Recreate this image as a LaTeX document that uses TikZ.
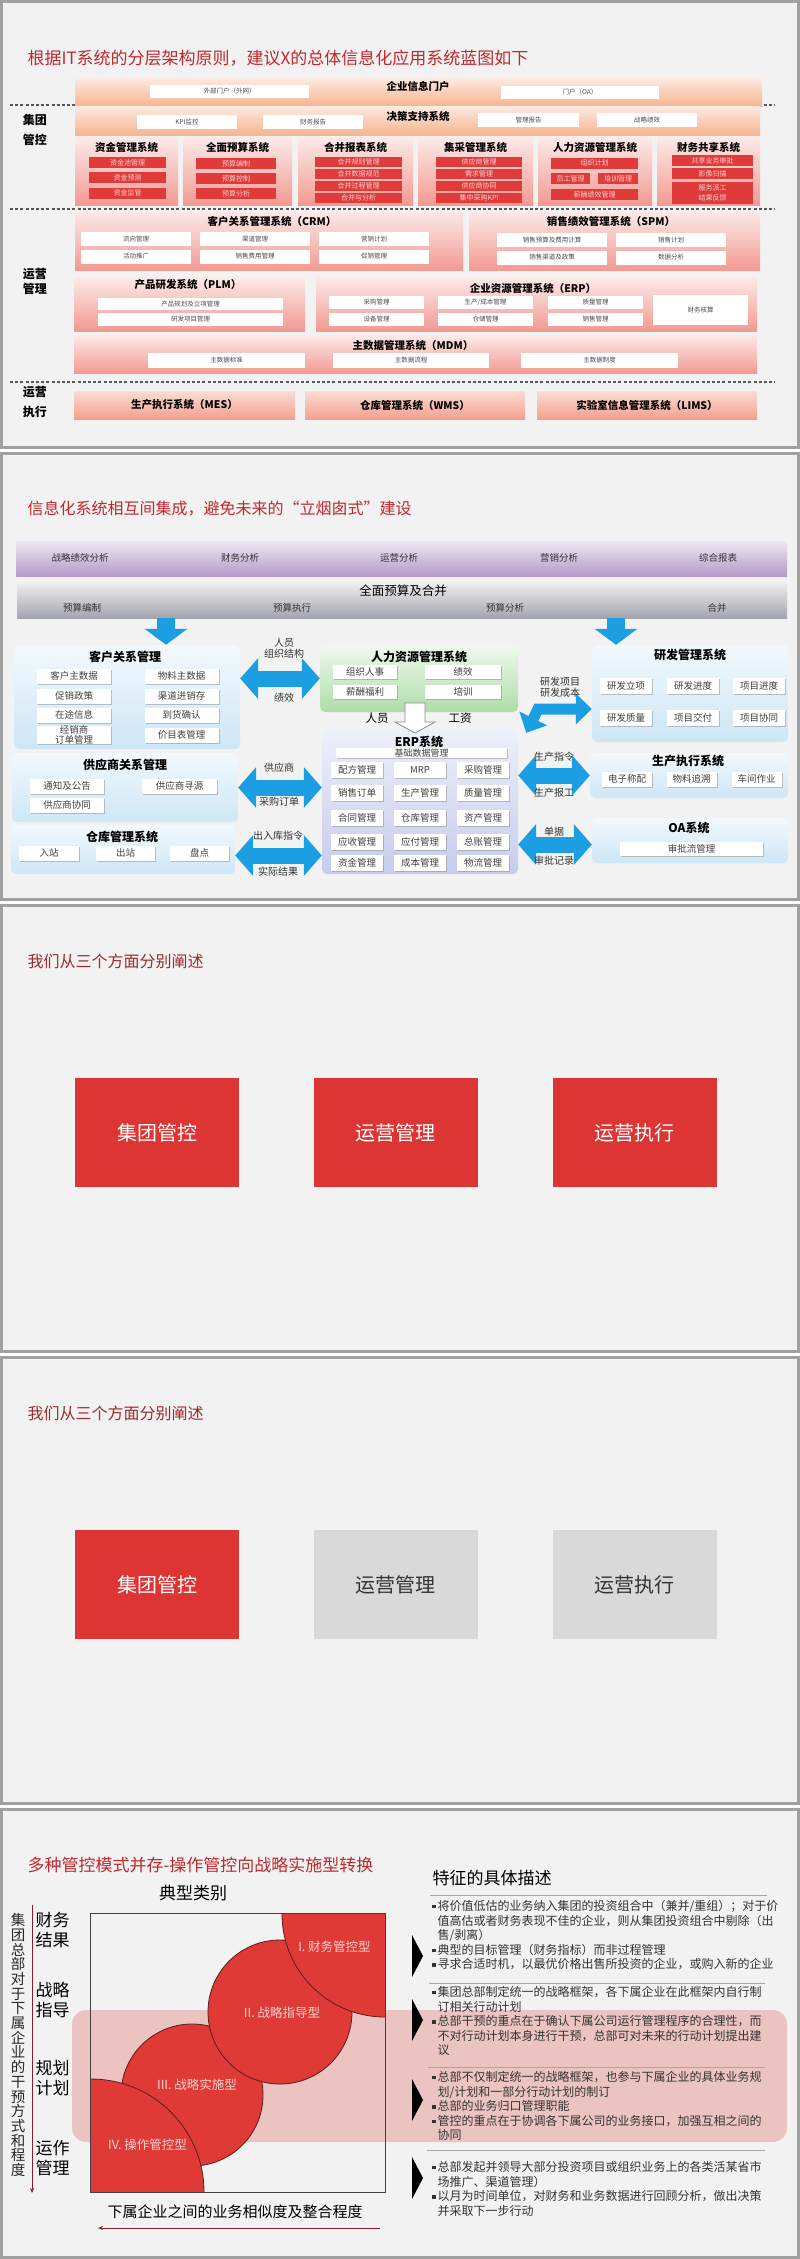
\documentclass[tikz,border=0pt]{standalone}
\usepackage{fontspec}
\setmainfont{Noto Sans CJK SC}
\usetikzlibrary{positioning, arrows.meta, calc, shapes.arrows, shadows}
\definecolor{titlered}{HTML}{C0282D}
\definecolor{maroon}{HTML}{9A2B2E}
\definecolor{deepred}{HTML}{8E1F24}
\definecolor{slidebg}{HTML}{F2F2F2}
\definecolor{framegray}{HTML}{A0A0A0}
\definecolor{peachtop}{HTML}{FCEBE2}
\definecolor{peachbot}{HTML}{F6B48F}
\definecolor{pinktop}{HTML}{FCEAE8}
\definecolor{pinkbot}{HTML}{F29A92}
\definecolor{salmtop}{HTML}{FCDCD4}
\definecolor{salmbot}{HTML}{F2A08E}
\definecolor{itemred}{HTML}{E03B3B}
\definecolor{itemtxt}{HTML}{FBD0D0}
\definecolor{lilactop}{HTML}{EEE6F3}
\definecolor{lilac}{HTML}{B39BC8}
\definecolor{greytop}{HTML}{F0F0F0}
\definecolor{greybot}{HTML}{A4A4AE}
\definecolor{skyblue}{HTML}{1C9FE2}
\definecolor{icetop}{HTML}{F2F9FD}
\definecolor{icebot}{HTML}{CDE6F6}
\definecolor{minttop}{HTML}{F0F9EF}
\definecolor{mint}{HTML}{AEDCA8}
\definecolor{peritop}{HTML}{EEF0FA}
\definecolor{peribot}{HTML}{C6CCEC}
\definecolor{boxred}{HTML}{DD3534}
\definecolor{boxgrey}{HTML}{D9D9D9}
\definecolor{circred}{HTML}{E03A36}
\definecolor{circline}{HTML}{5A1C1C}
\definecolor{circtxt}{HTML}{F8D0CC}
\definecolor{bandpink}{HTML}{DC5A50}
\definecolor{txtgrey}{HTML}{333333}
\newcommand{\fsz}[1]{\fontsize{#1}{#1}\selectfont}
\newcommand{\fsl}[2]{\fontsize{#1}{#2}\selectfont}
\newcommand{\sqb}{\rule[2pt]{3.5pt}{3.5pt}\hspace{2pt}}
\newcommand{\ind}{\hspace*{5.5pt}}

\begin{document}
\begin{tikzpicture}[
  x=1pt, y=-1pt,
  slidebox/.style={draw=framegray, line width=2.5pt, fill=slidebg},
  ttl/.style={anchor=west, text=titlered, font=\fsz{17}},
  wh/.style 2 args={minimum width=#1pt, minimum height=#2pt},
  dashsep/.style={draw=black!65, line width=1.1pt, dash pattern=on 3pt off 2.2pt},
  band/.style={inner sep=0pt, top color=pinktop, bottom color=pinkbot},
  peach/.style={inner sep=0pt, top color=peachtop, bottom color=peachbot},
  runbar/.style={inner sep=0pt, top color=salmtop, bottom color=salmbot, font=\bfseries\fsz{10.5}},
  wbox/.style={inner sep=0pt, fill=white, text=black!70, font=\fsz{6.5}},
  rbox/.style={inner sep=0pt, fill=itemred, text=itemtxt, font=\fsz{7}},
  hd/.style={font=\bfseries\fsz{10.5}},
  sidelbl/.style={font=\bfseries\fsz{12}},
  blk/.style={inner sep=0pt, rounded corners=5pt, top color=icetop, bottom color=icebot},
  btn/.style={inner sep=0pt, fill=white, text=black!75, font=\fsz{9.5},
    drop shadow={shadow xshift=1.3pt, shadow yshift=-1.3pt, fill=black!45, opacity=0.5}},
  bh/.style={font=\bfseries\fsz{12}},
  lbl/.style={font=\fsz{10}, text=black!80},
  barr/.style={draw=skyblue, line width=16pt,
    {Triangle[length=18pt,width=40pt]}-{Triangle[length=18pt,width=40pt]}},
  darr/.style={draw=skyblue, line width=18pt, -{Triangle[length=16pt,width=42pt]}},
  bigbox/.style={inner sep=0pt, wh={164}{109}, fill=boxred, text=white, font=\fsz{20}},
  greybox/.style={bigbox, fill=boxgrey, text=black!80},
  disc/.style={fill=circred, draw=circline, line width=0.8pt},
  disclbl/.style={text=circtxt, font=\fsz{12.5}},
  axarr/.style={draw=deepred, line width=0.8pt, -{Stealth[length=5pt,width=4pt]}},
  greyline/.style={draw=black!35, line width=0.8pt},
  note/.style={anchor=north west, align=left, inner sep=0pt, text=txtgrey, font=\fsl{12}{14.6}},
]
  \fill[white] (0,0) rectangle (800,2259);
  \useasboundingbox (0,0) rectangle (800,2259);

  % Slide 1: application blueprint
  \draw[slidebox] (1.5,1.5) rectangle (798.5,447.5);
  \node[ttl] (t1) at (24,58) {根据IT系统的分层架构原则，建议X的总体信息化应用系统蓝图如下};
  \foreach \y in {105,209,382} \draw[dashsep] (10,\y) -- (775,\y);
  \node[sidelbl] (grp1) at (35,120) {集团};
  \node[sidelbl] (grp2) at (35,140) {管控};
  \node[sidelbl] (ops1) at (35,274) {运营};
  \node[sidelbl] (ops2) at (35,289) {管理};
  \node[sidelbl] (run1) at (35,392) {运营};
  \node[sidelbl] (run2) at (35,412) {执行};

  \node[peach, wh={687}{28}] (portal) at (418.5,92) {};
  \node[hd] (portalT) at (418,86) {企业信息门户};
  \node[wbox, wh={159}{13}] (extweb) at (229.5,91.5) {外部门户（外网）};
  \node[wbox, wh={158}{13}] (oaweb) at (580,92.5) {门户（OA）};
  \node[peach, wh={685}{29}] (dss) at (417.5,120.5) {};
  \node[hd] (dssT) at (418,116) {决策支持系统};
  \node[wbox, wh={100}{14}] (kpi) at (187,122) {KPI监控};
  \node[wbox, wh={100}{14}] (finrep) at (313,122) {财务报告};
  \node[wbox, wh={101}{14}] (mgtrep) at (528.5,120) {管理报告};
  \node[wbox, wh={100}{14}] (strat) at (647,120) {战略绩效};

  \node[band, wh={103}{68}] (fund) at (126.5,171) {};
  \node[hd] (fundT) at (126.5,147) {资金管理系统};
  \node[rbox, wh={77}{11}] (f1) at (127.5,162.5) {资金池管理};
  \node[rbox, wh={77}{11}] (f2) at (127.5,177.5) {资金预测};
  \node[rbox, wh={77}{11}] (f3) at (127.5,193) {资金监管};
  \node[band, wh={109}{68}] (bud) at (237.5,171) {};
  \node[hd] (budT) at (237.5,147) {全面预算系统};
  \node[rbox, wh={80}{11}] (b1) at (236,163.5) {预算编制};
  \node[rbox, wh={80}{11}] (b2) at (236,178.5) {预算控制};
  \node[rbox, wh={80}{11}] (b3) at (236,193.5) {预算分析};
  \node[band, wh={115}{68}] (cons) at (355.5,171) {};
  \node[hd] (consT) at (355.5,147) {合并报表系统};
  \node[rbox, wh={87}{10}] (c1) at (358.5,162) {合并规则管理};
  \node[rbox, wh={87}{10}] (c2) at (358.5,174) {合并数据规范};
  \node[rbox, wh={87}{10}] (c3) at (358.5,186) {合并过程管理};
  \node[rbox, wh={87}{10}] (c4) at (358.5,198) {合并与分析};
  \node[band, wh={115}{68}] (proc) at (475.5,171) {};
  \node[hd] (procT) at (475.5,147) {集采管理系统};
  \node[rbox, wh={86}{10}] (p1) at (479,162) {供应商管理};
  \node[rbox, wh={86}{10}] (p2) at (479,174) {需求管理};
  \node[rbox, wh={86}{10}] (p3) at (479,186) {供应商协同};
  \node[rbox, wh={86}{10}] (p4) at (479,198) {集中采购KPI};
  \node[band, wh={114}{68}] (hrm) at (595,171) {};
  \node[hd] (hrmT) at (595,147) {人力资源管理系统};
  \node[rbox, wh={87}{11}] (h1) at (594.5,163) {组织计划};
  \node[rbox, wh={39}{11}] (h2) at (570.5,178.5) {员工管理};
  \node[rbox, wh={40}{11}] (h3) at (618,178.5) {培训管理};
  \node[rbox, wh={87}{11}] (h4) at (594.5,194.5) {薪酬绩效管理};
  \node[band, wh={103}{68}] (fss) at (708.5,171) {};
  \node[hd] (fssT) at (708.5,147) {财务共享系统};
  \node[rbox, wh={81}{11}] (s1) at (712.5,160.5) {共享业务审批};
  \node[rbox, wh={81}{11}] (s2) at (712.5,173.5) {影像扫描};
  \node[rbox, wh={81}{22}, align=center, font=\fsl{7}{10}] (s3) at (712.5,193) {服务派工\\结果反馈};

  \node[band, wh={388}{59}] (crm) at (269,240.5) {};
  \node[hd] (crmT) at (272,221) {客户关系管理系统（CRM）};
  \node[wbox, wh={110}{14}] (cr1) at (136,239) {流向管理};
  \node[wbox, wh={110}{14}] (cr2) at (255,239) {渠道管理};
  \node[wbox, wh={110}{14}] (cr3) at (374,239) {营销计划};
  \node[wbox, wh={110}{14}] (cr4) at (136,256.5) {活动推广};
  \node[wbox, wh={110}{14}] (cr5) at (255,256.5) {销售费用管理};
  \node[wbox, wh={110}{14}] (cr6) at (374,256.5) {促销管理};
  \node[band, wh={291}{59}] (spm) at (614.5,240.5) {};
  \node[hd] (spmT) at (611,221) {销售绩效管理系统（SPM）};
  \node[wbox, wh={110}{14}] (sp1) at (552,240) {销售预算及费用计算};
  \node[wbox, wh={110}{14}] (sp2) at (671,240) {销售计划};
  \node[wbox, wh={110}{14}] (sp3) at (552,257.5) {销售渠道及政策};
  \node[wbox, wh={110}{14}] (sp4) at (671,257.5) {数据分析};

  \node[band, wh={231}{54}] (plm) at (189.5,304) {};
  \node[hd] (plmT) at (188,285) {产品研发系统（PLM）};
  \node[wbox, wh={185}{12.5}] (pl1) at (190.5,304) {产品规划及立项管理};
  \node[wbox, wh={185}{12.5}] (pl2) at (190.5,319.5) {研发项目管理};
  \node[band, wh={441}{54}] (erp) at (536.5,304) {};
  \node[hd] (erpT) at (533,288) {企业资源管理系统（ERP）};
  \node[wbox, wh={95}{13}] (e1) at (376.5,302.5) {采购管理};
  \node[wbox, wh={95}{13}] (e2) at (376.5,319) {设备管理};
  \node[wbox, wh={95}{13}] (e3) at (485.5,302.5) {生产/成本管理};
  \node[wbox, wh={95}{13}] (e4) at (485.5,319) {仓储管理};
  \node[wbox, wh={95}{13}] (e5) at (595.5,302.5) {质量管理};
  \node[wbox, wh={95}{13}] (e6) at (595.5,319) {销售管理};
  \node[wbox, wh={95}{30}] (e7) at (700.5,310) {财务核算};
  \node[band, wh={683}{38}] (mdm) at (415.5,354) {};
  \node[hd] (mdmT) at (413,345) {主数据管理系统（MDM）};
  \node[wbox, wh={157}{15}] (m1) at (226.5,360.5) {主数据标准};
  \node[wbox, wh={156}{15}] (m2) at (411,360.5) {主数据流程};
  \node[wbox, wh={157}{15}] (m3) at (599.5,360.5) {主数据制度};

  \node[runbar, wh={221}{28}] (mes) at (184.5,405) {生产执行系统（MES）};
  \node[runbar, wh={220}{28}] (wms) at (415,405) {仓库管理系统（WMS）};
  \node[runbar, wh={220}{28}] (lims) at (647,405) {实验室信息管理系统（LIMS）};

  % Slide 2: integration map
  \draw[slidebox] (1.5,453.5) rectangle (798.5,899.5);
  \node[ttl, font=\fsz{16}] (t2) at (24,509) {信息化系统相互间集成，避免未来的“立烟囱式”建设};
  \node[inner sep=0pt, wh={771}{35}, top color=lilactop, bottom color=lilac] (anabar) at (401.5,558.5) {};
  \node[lbl, font=\fsz{9.5}] (an1) at (80,558) {战略绩效分析};
  \node[lbl, font=\fsz{9.5}] (an2) at (240,558) {财务分析};
  \node[lbl, font=\fsz{9.5}] (an3) at (399,558) {运营分析};
  \node[lbl, font=\fsz{9.5}] (an4) at (559,558) {营销分析};
  \node[lbl, font=\fsz{9.5}] (an5) at (718,558) {综合报表};
  \node[inner sep=0pt, wh={770}{36}, top color=greytop, bottom color=greybot] (budget) at (402,600) {};
  \node[font=\fsz{12.5}] (budgetT) at (403,591) {全面预算及合并};
  \node[lbl, font=\fsz{9.5}] (bu1) at (82,608) {预算编制};
  \node[lbl, font=\fsz{9.5}] (bu2) at (292,608) {预算执行};
  \node[lbl, font=\fsz{9.5}] (bu3) at (505,608) {预算分析};
  \node[lbl, font=\fsz{9.5}] (bu4) at (717,608) {合并};

  \node[blk, wh={226}{104}] (crm2) at (127,697) {};
  \node[bh] (crm2T) at (125,657) {客户关系管理};
  \node[btn, wh={74}{15}] (cm1) at (74,676) {客户主数据};
  \node[btn, wh={74}{15}] (cm2) at (181.5,676) {物料主数据};
  \node[btn, wh={74}{15}] (cm3) at (74,696) {促销政策};
  \node[btn, wh={74}{15}] (cm4) at (181.5,696) {渠道进销存};
  \node[btn, wh={74}{15}] (cm5) at (74,715) {在途信息};
  \node[btn, wh={74}{15}] (cm6) at (181.5,715) {到货确认};
  \node[btn, wh={74}{15}, align=center, font=\fsl{9.5}{9.5}] (cm7) at (74,735) {经销商\\订单管理};
  \node[btn, wh={74}{15}] (cm8) at (181.5,735) {价目表管理};
  \node[blk, wh={226}{69}] (srm) at (125,787.5) {};
  \node[bh] (srmT) at (125,765) {供应商关系管理};
  \node[btn, wh={74}{15}] (sr1) at (67,786) {通知及公告};
  \node[btn, wh={75}{15}] (sr2) at (179.5,786) {供应商寻源};
  \node[btn, wh={74}{15}] (sr3) at (67,805) {供应商协同};
  \node[blk, wh={224}{49}] (wms2) at (123,849.5) {};
  \node[bh] (wms2T) at (122,837) {仓库管理系统};
  \node[btn, wh={60}{15}] (wm1) at (49,853) {入站};
  \node[btn, wh={59}{15}] (wm2) at (125.5,853) {出站};
  \node[btn, wh={59}{15}] (wm3) at (199.5,853) {盘点};

  \node[blk, wh={198}{67}, top color=minttop, bottom color=mint] (hr) at (419,678.5) {};
  \node[bh] (hrT) at (419,657) {人力资源管理系统};
  \node[btn, wh={64}{14}] (hr1) at (365,672) {组织人事};
  \node[btn, wh={64}{14}] (hr2) at (365,692) {薪酬福利};
  \node[btn, wh={76}{14}] (hr3) at (463,672) {绩效};
  \node[btn, wh={76}{14}] (hr4) at (463,692) {培训};
  \node[blk, wh={196}{146}, top color=peritop, bottom color=peribot] (erp2) at (420,801) {};
  \node[bh] (erp2T) at (419,742) {ERP系统};
  \node[btn, wh={171}{10}, font=\fsz{9}] (erp2base) at (421.5,753) {基础数据管理};
  \node[btn, wh={52}{16}] (er1) at (357,770) {配方管理};
  \node[btn, wh={52}{16}] (er2) at (420,770) {MRP};
  \node[btn, wh={52}{16}] (er3) at (483,770) {采购管理};
  \node[btn, wh={52}{16}] (er4) at (357,793) {销售订单};
  \node[btn, wh={52}{16}] (er5) at (420,793) {生产管理};
  \node[btn, wh={52}{16}] (er6) at (483,793) {质量管理};
  \node[btn, wh={52}{16}] (er7) at (357,818) {合同管理};
  \node[btn, wh={52}{16}] (er8) at (420,818) {仓库管理};
  \node[btn, wh={52}{16}] (er9) at (483,818) {资产管理};
  \node[btn, wh={52}{16}] (er10) at (357,842) {应收管理};
  \node[btn, wh={52}{16}] (er11) at (420,842) {应付管理};
  \node[btn, wh={52}{16}] (er12) at (483,842) {总账管理};
  \node[btn, wh={52}{16}] (er13) at (357,863) {资金管理};
  \node[btn, wh={52}{16}] (er14) at (420,863) {成本管理};
  \node[btn, wh={52}{16}] (er15) at (483,863) {物流管理};

  \node[blk, wh={196}{97}] (rd) at (690,693.5) {};
  \node[bh] (rdT) at (690,655) {研发管理系统};
  \node[btn, wh={52}{16}] (rd1) at (626,686) {研发立项};
  \node[btn, wh={52}{16}] (rd2) at (693,686) {研发进度};
  \node[btn, wh={52}{16}] (rd3) at (759,686) {项目进度};
  \node[btn, wh={52}{16}] (rd4) at (626,718) {研发质量};
  \node[btn, wh={52}{16}] (rd5) at (693,718) {项目交付};
  \node[btn, wh={52}{16}] (rd6) at (759,718) {项目协同};
  \node[blk, wh={198}{45}] (mes2) at (689,775.5) {};
  \node[bh] (mes2T) at (688,761) {生产执行系统};
  \node[btn, wh={50}{15}] (ms1) at (627,779) {电子称配};
  \node[btn, wh={50}{15}] (ms2) at (691.5,779) {物料追溯};
  \node[btn, wh={50}{15}] (ms3) at (756.5,779) {车间作业};
  \node[blk, wh={196}{45}] (oa) at (690,840.5) {};
  \node[bh] (oaT) at (689,828) {OA系统};
  \node[btn, wh={143}{14}] (oa1) at (691.5,849) {审批流管理};

  \draw[darr] ([xshift=39pt]crm2.north |- budget.south) -- ([xshift=39pt]crm2.north);
  \draw[darr] ([xshift=-74pt]rd.north |- budget.south) -- ([xshift=-74pt]rd.north);
  \draw[barr] (crm2.east |- hr.west) -- (hr.west);
  \node[lbl, align=center, font=\fsl{10}{10.5}] (l1a) at (284,648) {人员\\组织结构};
  \node[lbl] (l1b) at (284,698) {绩效};
  \draw[barr] (srm.east) -- (srm.east -| erp2.west);
  \node[lbl] (l2a) at (279,768) {供应商};
  \node[lbl] (l2b) at (279,802) {采购订单};
  \draw[barr] ([yshift=-6pt]wms2.east) -- ([yshift=-6pt]wms2.east -| erp2.west);
  \node[lbl] (l3a) at (278,836) {出入库指令};
  \node[lbl] (l3b) at (278,872) {实际结果};
  \draw[barr] (erp2.east |- mes2.west) -- (mes2.west);
  \node[lbl] (l4a) at (554,757) {生产指令};
  \node[lbl] (l4b) at (554,793) {生产报工};
  \draw[barr] ([yshift=-4pt]erp2.east |- oa.west) -- ([yshift=-4pt]oa.west);
  \node[lbl] (l5a) at (554,832) {单据};
  \node[lbl] (l5b) at (554,861) {审批记录};
  \coordinate (rdbend) at (538,709);
  \draw[draw=skyblue, line width=11pt,
    {Triangle[length=16pt,width=30pt]}-{Triangle[length=16pt,width=30pt]}]
    ([yshift=-15.5pt]rd.west) -- (rdbend) -- ([xshift=8pt,yshift=-5pt]erp2.north east);
  \node[lbl, align=center, font=\fsl{10}{10.5}] (l6) at (560,687) {研发项目\\研发成本};
  % hollow flow arrow from HR down to ERP
  \coordinate (flow) at (415,703);
  \draw[black!45, fill=white, line width=0.8pt] (flow) ++(-10,0) -- ++(20,0) -- ++(0,19)
    -- ++(10,0) -- ++(-20,11) -- ++(-20,-11) -- ++(10,0) -- cycle;
  \node[font=\fsz{11.5}] (staff) at (377,718) {人员};
  \node[font=\fsz{11.5}] (wage) at (460,718) {工资};

  % Slide 3: three aspects
  \draw[slidebox] (1.5,905.5) rectangle (798.5,1351.5);
  \node[ttl, text=maroon, font=\fsz{16}] (t3) at (24,961) {我们从三个方面分别阐述};
  \node[bigbox] (gc3) at (157,1132.5) {集团管控};
  \node[bigbox] (om3) at (395.5,1132.5) {运营管理};
  \node[bigbox] (oe3) at (634.5,1132.5) {运营执行};

  % Slide 4: first aspect highlighted
  \draw[slidebox] (1.5,1357.5) rectangle (798.5,1803.5);
  \node[ttl, text=maroon, font=\fsz{16}] (t4) at (24,1413) {我们从三个方面分别阐述};
  \node[bigbox] (gc4) at (157,1584.5) {集团管控};
  \node[greybox] (om4) at (395.5,1584.5) {运营管理};
  \node[greybox] (oe4) at (634.5,1584.5) {运营执行};

  % Slide 5: control modes
  \draw[slidebox] (1.5,1809.5) rectangle (798.5,2257.5);
  \node[ttl] (t5) at (24,1865) {多种管控模式并存-操作管控向战略实施型转换};
  \fill[bandpink, opacity=0.3, rounded corners=14pt] (72,2010) rectangle (787,2142);
  \node[font=\fsz{17}] (typ) at (193,1893) {典型类别};
  \node[align=center, font=\fsl{14.5}{14.7}, text=black!85] (vaxis) at (18,2045)
    {集\\团\\总\\部\\对\\于\\下\\属\\企\\业\\的\\干\\预\\方\\式\\和\\程\\度};
  \coordinate (vtop) at (32,1905);
  \coordinate (vbot) at (32,2193);
  \draw[axarr] (vtop) -- (vbot);
  \node[align=center, font=\fsl{17}{20}] (lv1) at (52.5,1930) {财务\\结果};
  \node[align=center, font=\fsl{17}{20}] (lv2) at (52.5,2000) {战略\\指导};
  \node[align=center, font=\fsl{17}{20}] (lv3) at (52.5,2078) {规划\\计划};
  \node[align=center, font=\fsl{17}{20}] (lv4) at (52.5,2158.5) {运作\\管理};
  \node[inner sep=0pt, wh={294}{278}] (quad) at (238,2053) {};
  \begin{scope}
    \clip (quad.north west) rectangle (quad.south east);
    \draw[disc] (192,2095) circle[radius=71pt];
    \draw[disc] (280,2012) circle[radius=72pt];
    \draw[disc] (385,1914) circle[radius=103pt];
    \draw[disc] (91,2192) circle[radius=113pt];
  \end{scope}
  \draw[black!75, line width=1pt] (quad.north west) rectangle (quad.south east);
  \node[disclbl] (m1l) at (334.5,1947) {I. 财务管控型};
  \node[disclbl] (m2l) at (282,2013) {II. 战略指导型};
  \node[disclbl] (m3l) at (197,2085) {III. 战略实施型};
  \node[disclbl] (m4l) at (147.5,2145) {IV. 操作管控型};
  \node[font=\fsz{15}] (haxis) at (235,2212) {下属企业之间的业务相似度及整合程度};
  \coordinate (hright) at (380,2228);
  \coordinate (hleft) at (98,2228);
  \draw[axarr] (hright) -- (hleft);

  \node[anchor=west, font=\fsz{17}] (featT) at (429,1878) {特征的具体描述};
  \draw[greyline] (430,1895) -- (767,1895);
  \draw[greyline] (429,1983) -- (765,1983);
  \draw[greyline] (428,2067) -- (765,2067);
  \draw[greyline] (427,2150) -- (765,2150);
  \foreach \c in {1956,2020,2100,2178}
    \fill[black] (412,\c-21) -- (423,\c) -- (412,\c+21) -- cycle;
  \node[note] (g1) at (432,1900) {\sqb 将价值低估的业务纳入集团的投资组合中（兼并/重组）；对于价\\
    \ind 值高估或者财务表现不佳的企业，则从集团投资组合中剔除（出\\
    \ind 售/剥离）\\
    \sqb 典型的目标管理（财务指标）而非过程管理\\
    \sqb 寻求合适时机，以最优价格出售所投资的企业，或购入新的企业};
  \node[note] (g2) at (432,1986) {\sqb 集团总部制定统一的战略框架，各下属企业在此框架内自行制\\
    \ind 订相关行动计划\\
    \sqb 总部干预的重点在于确认下属公司运行管理程序的合理性，而\\
    \ind 不对行动计划本身进行干预，总部可对未来的行动计划提出建\\
    \ind 议};
  \node[note] (g3) at (432,2071) {\sqb 总部不仅制定统一的战略框架，也参与下属企业的具体业务规\\
    \ind 划/计划和一部分行动计划的制订\\
    \sqb 总部的业务归口管理职能\\
    \sqb 管控的重点在于协调各下属公司的业务接口，加强互相之间的\\
    \ind 协同};
  \node[note] (g4) at (432,2161) {\sqb 总部发起并领导大部分投资项目或组织业务上的各类活某省市\\
    \ind 场推广、渠道管理）\\
    \sqb 以月为时间单位，对财务和业务数据进行回顾分析，做出决策\\
    \ind 并采取下一步行动};
\end{tikzpicture}
\end{document}
